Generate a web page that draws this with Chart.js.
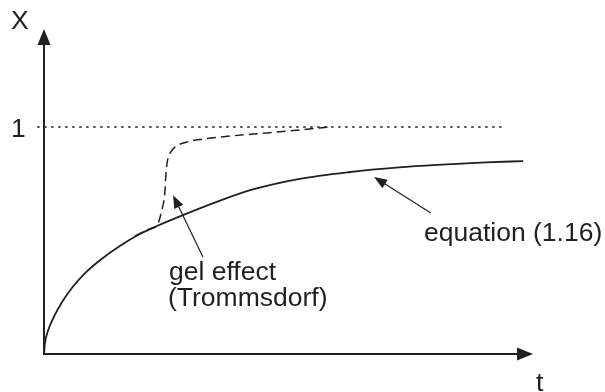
<!DOCTYPE html>
<html>
<head>
<meta charset="utf-8">
<script src="https://cdn.jsdelivr.net/npm/chart.js@4"></script>
<style>
    body { margin: 0; background: #fff; }
</style>
</head>
<body>
<canvas id="grafico" width="605" height="392"></canvas>
<script>
// curva da equacao (1.16)
var t_equacao = [0, 0.02, 0.08, 0.2, 0.37, 0.57, 0.82, 1.15, 1.55, 1.96, 2.31, 2.84, 3.6, 4.27, 5.2, 6.26, 7.26, 8.04, 9.04, 9.8];
var x_equacao = [0, 0.048, 0.101, 0.163, 0.229, 0.291, 0.352, 0.414, 0.476, 0.529, 0.564, 0.612, 0.676, 0.725, 0.771, 0.802, 0.822, 0.833, 0.844, 0.85];

// efeito gel (Trommsdorf)
var t_gel = [1.86, 2.17, 2.31, 2.41, 2.47, 2.49, 2.52, 2.58, 2.68, 2.92, 3.25, 3.6, 4.27, 4.97, 5.64, 5.85];
var x_gel = [0.52, 0.552, 0.566, 0.634, 0.709, 0.78, 0.846, 0.885, 0.912, 0.934, 0.947, 0.956, 0.969, 0.982, 0.996, 1.0];

// linha pontilhada X = 1
var t_limite = [-0.14, 9.43];
var x_limite = [1, 1];

var rotulo_x = 'X';
var rotulo_t = 't';
var rotulo_um = '1';
var rotulo_gel = ['gel effect', '(Trommsdorf)'];
var rotulo_equacao = 'equation (1.16)';

function pontos(xs, ys) {
    var lista = [];
    for (var i = 0; i < xs.length; i++) {
        lista.push({ x: xs[i], y: ys[i] });
    }
    return lista;
}

var cor = '#231f20';
var fonte = '26.5px "Liberation Sans", Arial, sans-serif';

function seta(ctx, x1, y1, x2, y2, tam, larg) {
    var ang = Math.atan2(y2 - y1, x2 - x1);
    ctx.beginPath();
    ctx.moveTo(x1, y1);
    ctx.lineTo(x2 - Math.cos(ang) * tam * 0.8, y2 - Math.sin(ang) * tam * 0.8);
    ctx.stroke();
    ctx.beginPath();
    ctx.moveTo(x2, y2);
    ctx.lineTo(x2 - Math.cos(ang) * tam - Math.sin(ang) * larg, y2 - Math.sin(ang) * tam + Math.cos(ang) * larg);
    ctx.lineTo(x2 - Math.cos(ang) * tam + Math.sin(ang) * larg, y2 - Math.sin(ang) * tam - Math.cos(ang) * larg);
    ctx.closePath();
    ctx.fill();
}

// eixos com setas e textos
var desenhos = {
    id: 'desenhos',
    afterDraw: function (chart) {
        var ctx = chart.ctx;
        var a = chart.chartArea;
        var sx = chart.scales.x;
        var sy = chart.scales.y;
        ctx.save();
        ctx.strokeStyle = cor;
        ctx.fillStyle = cor;
        ctx.lineWidth = 2;
        seta(ctx, a.left, a.bottom + 1, a.left, a.top, 16, 6.5);
        seta(ctx, a.left - 1, a.bottom, a.right, a.bottom, 16, 6.5);

        ctx.lineWidth = 1.2;
        seta(ctx, sx.getPixelForValue(3.25), sy.getPixelForValue(0.427), sx.getPixelForValue(2.64), sy.getPixelForValue(0.70), 13, 5);
        seta(ctx, sx.getPixelForValue(7.91), sy.getPixelForValue(0.621), sx.getPixelForValue(6.75), sy.getPixelForValue(0.78), 13, 5);

        ctx.font = fonte;
        ctx.textBaseline = 'alphabetic';
        ctx.textAlign = 'left';
        ctx.fillText(rotulo_x, 11, 29);
        ctx.fillText(rotulo_um, 11, 137);
        ctx.fillText(rotulo_t, 536, 391);
        ctx.fillText(rotulo_gel[0], 169, 280);
        ctx.fillText(rotulo_gel[1], 168, 306);
        ctx.fillText(rotulo_equacao, 424, 241);
        ctx.restore();
    }
};

const grafico = new Chart(document.getElementById('grafico'), {
    type: 'scatter',
    data: {
        datasets: [{
            label: 'limite',
            data: pontos(t_limite, x_limite),
            showLine: true,
            borderColor: cor,
            borderWidth: 1.4,
            borderDash: [2.5, 4.5],
            pointRadius: 0,
            clip: false
        }, {
            label: 'gel',
            data: pontos(t_gel, x_gel),
            showLine: true,
            borderColor: cor,
            borderWidth: 1.5,
            borderDash: [9, 5],
            pointRadius: 0,
            cubicInterpolationMode: 'monotone'
        }, {
            label: 'equacao',
            data: pontos(t_equacao, x_equacao),
            showLine: true,
            borderColor: cor,
            borderWidth: 1.8,
            pointRadius: 0,
            cubicInterpolationMode: 'monotone'
        }]
    },
    options: {
        responsive: false,
        animation: false,
        layout: {
            padding: { left: 44, right: 72, top: 29, bottom: 38 }
        },
        scales: {
            x: { type: 'linear', min: 0, max: 10, display: false },
            y: { min: 0, max: 1.432, display: false }
        },
        plugins: {
            legend: { display: false },
            tooltip: { enabled: false }
        }
    },
    plugins: [desenhos]
});
</script>
</body>
</html>
